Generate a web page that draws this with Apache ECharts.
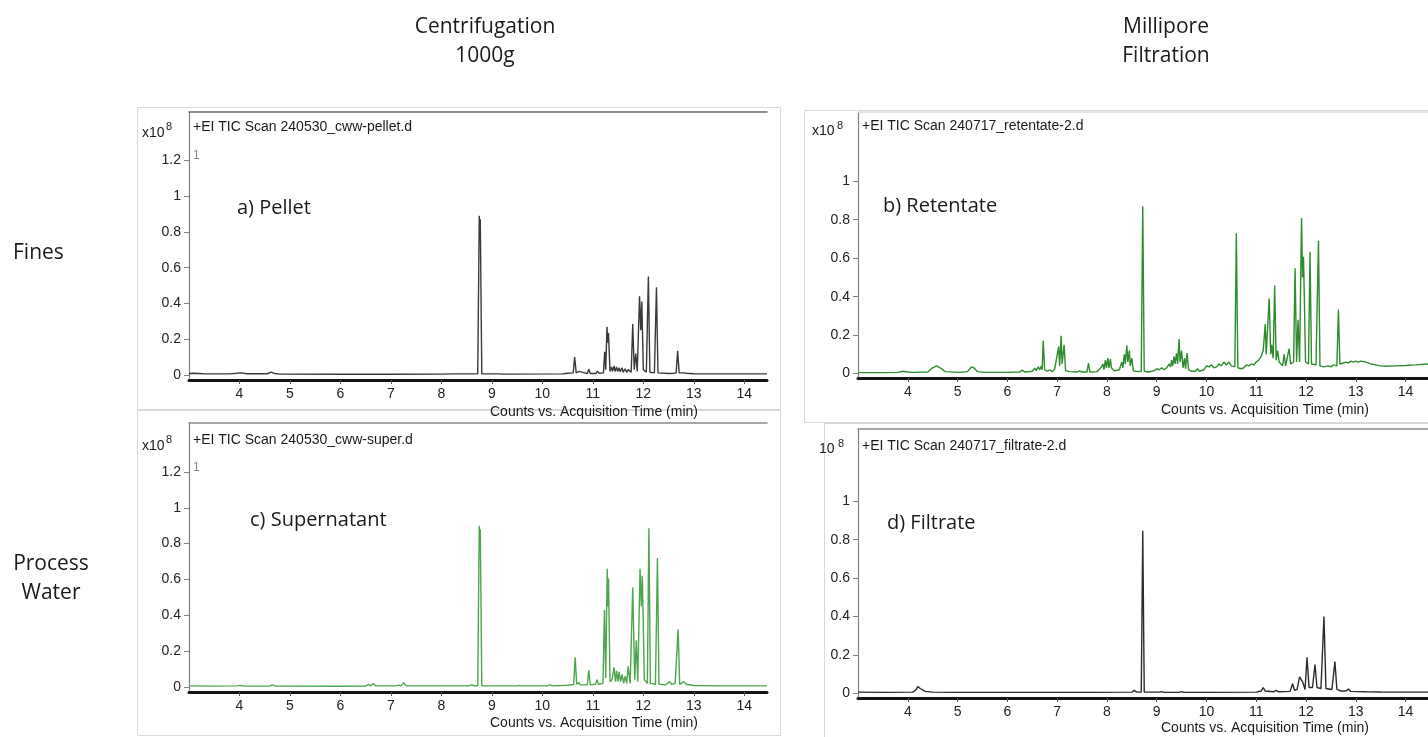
<!DOCTYPE html>
<html>
<head>
<meta charset="utf-8">
<script src="https://cdn.jsdelivr.net/npm/echarts@6/dist/echarts.min.js"></script>
<style>html,body{margin:0;padding:0;background:#fff}#c{width:1428px;height:737px}</style>
</head>
<body>
<div id="c"></div>
<script>
// ---- data (time in min, counts x10^8) ----
const xTicks = [4,5,6,7,8,9,10,11,12,13,14];
const yTicksLeft = [0,0.2,0.4,0.6,0.8,1,1.2];
const yTicksRight = [0,0.2,0.4,0.6,0.8,1];

const pelletTrace = [[3.0,0.008],[3.1,0.01],[3.3,0.007],[3.8,0.006],[3.95,0.01],[4.02,0.012],[4.15,0.007],[4.55,0.007],[4.63,0.016],[4.7,0.008],[4.8,0.005],[6,0.004],[7,0.004],[8.0,0.005],[8.25,0.006],[8.28,0.012],[8.31,0.006],[8.5,0.006],[8.52,0.01],[8.55,0.006],[8.72,0.006],[8.75,0.89],[8.76,0.8],[8.77,0.87],[8.8,0.006],[9.15,0.006],[9.18,0.01],[9.21,0.005],[10.4,0.006],[10.5,0.01],[10.61,0.012],[10.64,0.10],[10.67,0.012],[10.73,0.02],[10.76,0.01],[10.89,0.008],[10.92,0.032],[10.95,0.008],[11.06,0.008],[11.09,0.022],[11.12,0.01],[11.21,0.012],[11.235,0.13],[11.255,0.03],[11.28,0.27],[11.295,0.18],[11.31,0.235],[11.34,0.02],[11.37,0.045],[11.39,0.02],[11.42,0.05],[11.44,0.02],[11.47,0.045],[11.49,0.02],[11.52,0.04],[11.54,0.018],[11.58,0.04],[11.6,0.015],[11.64,0.035],[11.67,0.015],[11.7,0.03],[11.76,0.015],[11.79,0.285],[11.82,0.03],[11.85,0.12],[11.88,0.02],[11.925,0.44],[11.95,0.25],[11.97,0.41],[12.0,0.03],[12.06,0.015],[12.1,0.55],[12.13,0.015],[12.22,0.012],[12.26,0.49],[12.29,0.012],[12.5,0.008],[12.6,0.01],[12.65,0.012],[12.68,0.135],[12.71,0.012],[12.8,0.012],[12.85,0.01],[13.0,0.007],[13.5,0.006],[14.0,0.006],[14.45,0.006]];

const supernatantTrace = [[3.0,0.006],[3.5,0.005],[3.95,0.006],[4.02,0.009],[4.1,0.005],[4.6,0.005],[4.65,0.012],[4.72,0.005],[6.0,0.004],[6.5,0.005],[6.55,0.014],[6.6,0.006],[6.65,0.02],[6.7,0.006],[7.1,0.006],[7.15,0.01],[7.2,0.006],[7.25,0.024],[7.3,0.006],[8.0,0.006],[8.55,0.007],[8.6,0.012],[8.65,0.007],[8.72,0.007],[8.75,0.90],[8.76,0.82],[8.77,0.88],[8.8,0.007],[9.5,0.006],[9.55,0.009],[9.6,0.006],[10.1,0.006],[10.15,0.012],[10.2,0.006],[10.5,0.01],[10.62,0.014],[10.65,0.165],[10.68,0.015],[10.72,0.025],[10.75,0.012],[10.89,0.012],[10.92,0.093],[10.95,0.012],[11.05,0.015],[11.08,0.04],[11.11,0.015],[11.2,0.02],[11.23,0.43],[11.255,0.05],[11.285,0.66],[11.3,0.45],[11.31,0.605],[11.34,0.03],[11.38,0.04],[11.42,0.11],[11.45,0.03],[11.47,0.09],[11.5,0.03],[11.52,0.085],[11.55,0.03],[11.58,0.07],[11.61,0.02],[11.64,0.06],[11.67,0.02],[11.7,0.115],[11.74,0.02],[11.79,0.555],[11.83,0.04],[11.86,0.26],[11.89,0.03],[11.935,0.66],[11.96,0.45],[11.98,0.62],[12.02,0.04],[12.08,0.02],[12.11,0.885],[12.14,0.02],[12.24,0.015],[12.28,0.72],[12.31,0.015],[12.45,0.012],[12.52,0.03],[12.56,0.015],[12.63,0.02],[12.69,0.32],[12.72,0.015],[12.8,0.03],[12.85,0.015],[13.0,0.008],[13.5,0.006],[14.0,0.006],[14.45,0.006]];

const retentateTrace = [[3.0,0.005],[3.5,0.005],[3.8,0.006],[3.9,0.012],[4.0,0.008],[4.1,0.006],[4.4,0.008],[4.5,0.03],[4.58,0.04],[4.65,0.03],[4.75,0.01],[5.0,0.006],[5.2,0.01],[5.28,0.035],[5.33,0.03],[5.4,0.01],[5.55,0.006],[6.0,0.006],[6.25,0.008],[6.3,0.018],[6.35,0.008],[6.5,0.012],[6.55,0.028],[6.58,0.015],[6.62,0.035],[6.65,0.02],[6.68,0.04],[6.7,0.02],[6.72,0.17],[6.75,0.02],[6.8,0.012],[6.85,0.02],[6.9,0.01],[6.95,0.022],[6.98,0.012],[7.03,0.14],[7.05,0.04],[7.08,0.196],[7.1,0.05],[7.14,0.15],[7.17,0.015],[7.25,0.01],[7.4,0.008],[7.45,0.014],[7.5,0.008],[7.6,0.008],[7.63,0.055],[7.66,0.008],[7.8,0.01],[7.88,0.03],[7.92,0.05],[7.94,0.02],[7.97,0.07],[7.99,0.03],[8.02,0.08],[8.04,0.03],[8.07,0.075],[8.09,0.03],[8.12,0.04],[8.15,0.015],[8.25,0.02],[8.3,0.06],[8.32,0.03],[8.35,0.1],[8.37,0.05],[8.4,0.147],[8.42,0.06],[8.45,0.12],[8.47,0.04],[8.5,0.08],[8.53,0.015],[8.62,0.01],[8.69,0.012],[8.72,0.87],[8.75,0.012],[8.85,0.008],[8.95,0.015],[9.0,0.025],[9.05,0.02],[9.1,0.03],[9.15,0.02],[9.2,0.03],[9.25,0.05],[9.28,0.035],[9.3,0.07],[9.32,0.04],[9.35,0.09],[9.37,0.05],[9.4,0.105],[9.42,0.05],[9.45,0.18],[9.47,0.06],[9.5,0.12],[9.53,0.03],[9.56,0.08],[9.58,0.025],[9.61,0.107],[9.64,0.02],[9.7,0.012],[9.78,0.012],[9.82,0.025],[9.86,0.012],[9.95,0.02],[10.0,0.04],[10.05,0.035],[10.1,0.045],[10.15,0.03],[10.2,0.035],[10.25,0.05],[10.3,0.04],[10.35,0.06],[10.4,0.045],[10.45,0.06],[10.5,0.04],[10.57,0.035],[10.6,0.73],[10.63,0.03],[10.7,0.025],[10.75,0.03],[10.8,0.045],[10.85,0.04],[10.9,0.05],[10.95,0.045],[11.0,0.06],[11.05,0.07],[11.1,0.09],[11.14,0.12],[11.18,0.257],[11.2,0.1],[11.26,0.39],[11.29,0.1],[11.31,0.15],[11.34,0.08],[11.37,0.458],[11.4,0.07],[11.43,0.12],[11.46,0.06],[11.5,0.07],[11.53,0.04],[11.56,0.1],[11.59,0.04],[11.63,0.05],[11.66,0.13],[11.69,0.05],[11.75,0.06],[11.78,0.547],[11.81,0.06],[11.84,0.28],[11.87,0.06],[11.91,0.807],[11.93,0.5],[11.95,0.607],[11.99,0.06],[12.05,0.05],[12.08,0.633],[12.11,0.05],[12.2,0.045],[12.25,0.69],[12.28,0.04],[12.35,0.035],[12.45,0.04],[12.5,0.035],[12.55,0.045],[12.62,0.04],[12.65,0.333],[12.68,0.05],[12.75,0.055],[12.8,0.06],[12.85,0.055],[12.9,0.065],[12.95,0.06],[13.0,0.065],[13.05,0.06],[13.1,0.065],[13.2,0.06],[13.3,0.05],[13.4,0.045],[13.5,0.04],[13.6,0.038],[13.8,0.04],[14.0,0.042],[14.2,0.045],[14.45,0.05]];

const filtrateTrace = [[3.0,0.006],[3.5,0.005],[4.1,0.006],[4.17,0.02],[4.2,0.035],[4.25,0.025],[4.35,0.01],[4.5,0.006],[5.0,0.005],[6.0,0.005],[7.0,0.005],[7.6,0.005],[7.64,0.01],[7.68,0.005],[8.5,0.006],[8.55,0.015],[8.6,0.006],[8.69,0.006],[8.72,0.847],[8.75,0.006],[9.05,0.006],[9.1,0.009],[9.15,0.005],[9.45,0.005],[9.5,0.009],[9.55,0.005],[10.0,0.005],[11.0,0.006],[11.1,0.012],[11.14,0.03],[11.18,0.012],[11.35,0.008],[11.4,0.015],[11.45,0.008],[11.68,0.01],[11.73,0.05],[11.77,0.015],[11.82,0.02],[11.87,0.085],[11.9,0.09],[11.93,0.06],[11.98,0.02],[12.02,0.187],[12.06,0.03],[12.13,0.03],[12.18,0.15],[12.22,0.03],[12.3,0.025],[12.36,0.40],[12.4,0.025],[12.52,0.02],[12.58,0.165],[12.62,0.02],[12.7,0.012],[12.8,0.012],[12.85,0.022],[12.9,0.01],[13.2,0.008],[13.5,0.007],[14.0,0.006],[14.45,0.006]];

const panelTitles = ['+EI TIC Scan 240530_cww-pellet.d','+EI TIC Scan 240717_retentate-2.d','+EI TIC Scan 240530_cww-super.d','+EI TIC Scan 240717_filtrate-2.d'];
const panelLabels = ['a) Pellet','b) Retentate','c) Supernatant','d) Filtrate'];
const xAxisTitle = 'Counts vs. Acquisition Time (min)';

// ---- layout ----
const panels = [
  {grid:{left:189,right:661,top:112,bottom:357}, ymin:-0.028, ymax:1.47, ticks:yTicksLeft, data:pelletTrace, color:'#3a3a3a', topColor:'#6a6a6a'},
  {grid:{left:858,right:-9,top:112,bottom:359}, ymin:-0.023, ymax:1.36, ticks:yTicksRight, data:retentateTrace, color:'#2e8c2e', topColor:'#dcdcdc'},
  {grid:{left:189,right:661,top:423,bottom:45}, ymin:-0.028, ymax:1.473, ticks:yTicksLeft, data:supernatantTrace, color:'#4da64d', topColor:'#8a8a8a'},
  {grid:{left:858,right:-9,top:429,bottom:39}, ymin:-0.0245, ymax:1.377, ticks:yTicksRight, data:filtrateTrace, color:'#2b2b2b', topColor:'#8a8a8a'}
];

const FONT_AX = '"Liberation Sans", Arial, sans-serif';
const FONT_TXT = '"Open Sans", sans-serif';

const grids = [], xAxes = [], yAxes = [], series = [];
panels.forEach((p,i)=>{
  grids.push(Object.assign({containLabel:false}, p.grid));
  xAxes.push({
    type:'value', gridIndex:i, min:3, max:14.45, position:'bottom',
    axisLine:{show:true, onZero:false, lineStyle:{color:'#151515', width:3}},
    axisTick:{show:true, length:4, customValues:xTicks, lineStyle:{color:'#555', width:1}},
    axisLabel:{show:true, customValues:xTicks, margin:7, color:'#222', fontSize:14, fontFamily:FONT_AX},
    splitLine:{show:false}
  });
  xAxes.push({
    type:'value', gridIndex:i, min:3, max:14.45, position:'top',
    axisLine:{show:true, onZero:false, lineStyle:{color:p.topColor, width:1.5}},
    axisTick:{show:false}, axisLabel:{show:false}, splitLine:{show:false}
  });
  yAxes.push({
    type:'value', gridIndex:i, min:p.ymin, max:p.ymax,
    axisLine:{show:true, onZero:false, lineStyle:{color:'#808080', width:1.2}},
    axisTick:{show:true, length:5, customValues:p.ticks, lineStyle:{color:'#808080'}},
    axisLabel:{show:true, customValues:p.ticks, margin:8, color:'#222', fontSize:14, fontFamily:FONT_AX},
    splitLine:{show:false}
  });
  series.push({
    type:'line', xAxisIndex:2*i, yAxisIndex:i, data:p.data, showSymbol:false, symbol:'none',
    lineStyle:{color:p.color, width:1.4}, clip:true, animation:false
  });
});

function txt(x,y,text,font,opts){
  return {type:'text', z:10, style:Object.assign({x:x,y:y,text:text,font:font,fill:'#1a1a1a',textAlign:'left',textVerticalAlign:'middle'}, opts||{})};
}
function frame(x,y,w,h){
  return {type:'rect', z:-1, shape:{x:x,y:y,width:w,height:h}, style:{fill:'none', stroke:'#d9d9d9', lineWidth:1}};
}

const graphic = [
  frame(137.5,107.5,643,302), frame(137.5,410.5,643,325),
  frame(804.5,110.5,640,312), frame(824.5,423.5,620,320),
  // column and row headings
  txt(485,27,'Centrifugation','21px '+FONT_TXT,{textAlign:'center'}),
  txt(485,56,'1000g','21px '+FONT_TXT,{textAlign:'center'}),
  txt(1166,27,'Millipore','21px '+FONT_TXT,{textAlign:'center'}),
  txt(1166,56,'Filtration','21px '+FONT_TXT,{textAlign:'center'}),
  txt(13,253,'Fines','21px '+FONT_TXT),
  txt(51,564,'Process','21px '+FONT_TXT,{textAlign:'center'}),
  txt(51,593,'Water','21px '+FONT_TXT,{textAlign:'center'}),
  // panel labels
  txt(237,208,panelLabels[0],'20px '+FONT_TXT),
  txt(883,206,panelLabels[1],'20px '+FONT_TXT),
  txt(250,520,panelLabels[2],'20px '+FONT_TXT),
  txt(887,523,panelLabels[3],'20px '+FONT_TXT),
  // scan headers
  txt(193,127,panelTitles[0],'14px '+FONT_AX),
  txt(862,126,panelTitles[1],'14px '+FONT_AX),
  txt(193,440,panelTitles[2],'14px '+FONT_AX),
  txt(862,446,panelTitles[3],'14px '+FONT_AX),
  // exponent labels
  txt(142,133,'x10','14px '+FONT_AX), txt(166,127,'8','11px '+FONT_AX),
  txt(812,131,'x10','14px '+FONT_AX), txt(837,126,'8','11px '+FONT_AX),
  txt(142,446,'x10','14px '+FONT_AX), txt(166,440,'8','11px '+FONT_AX),
  txt(819,449,'10','14px '+FONT_AX), txt(838,444,'8','11px '+FONT_AX),
  // trace index markers
  txt(193,156,'1','12px '+FONT_AX,{fill:'#888'}),
  txt(193,468,'1','12px '+FONT_AX,{fill:'#888'}),
  // axis titles
  txt(594,412,xAxisTitle,'14px '+FONT_AX,{textAlign:'center'}),
  txt(1265,410,xAxisTitle,'14px '+FONT_AX,{textAlign:'center'}),
  txt(594,723,xAxisTitle,'14px '+FONT_AX,{textAlign:'center'}),
  txt(1265,728,xAxisTitle,'14px '+FONT_AX,{textAlign:'center'})
];

const chart = echarts.init(document.getElementById('c'), null, {renderer:'canvas'});
chart.setOption({
  animation:false, backgroundColor:'#ffffff',
  grid:grids, xAxis:xAxes, yAxis:yAxes, series:series, graphic:graphic
});
</script>
</body>
</html>
